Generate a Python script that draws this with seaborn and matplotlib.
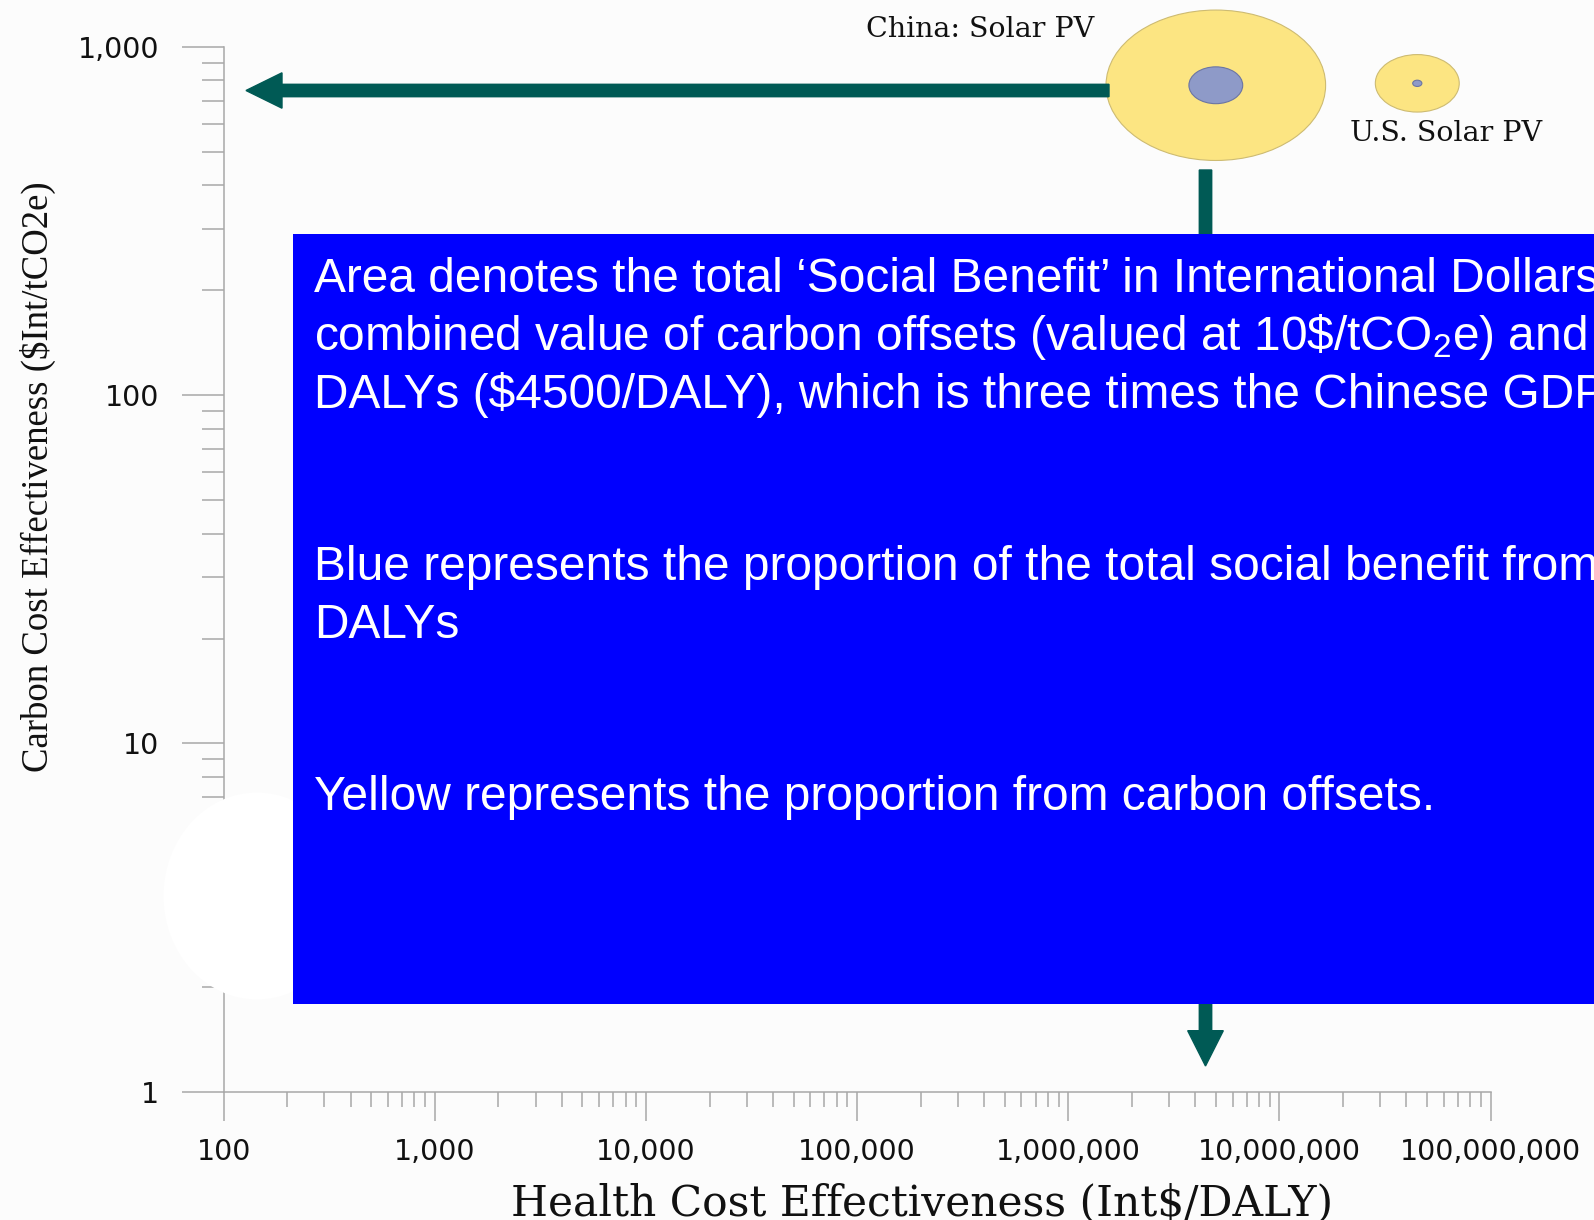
import numpy as np
import matplotlib
matplotlib.use('Agg')
import matplotlib.pyplot as plt
import matplotlib.patches as mpatches
from matplotlib.path import Path
from matplotlib.transforms import Affine2D
from matplotlib.ticker import FixedLocator, LogLocator, FuncFormatter, NullFormatter
import seaborn as sns

# bubble data
projects = ['China: Solar PV', 'U.S. Solar PV']
health_cost_eff = [5.0e6, 4.5e7]    # Int$/DALY
carbon_cost_eff = [775, 785]        # $Int/tCO2e
social_benefit = [1.0, 0.146]       # total social benefit, relative to China (bubble area)
daly_share = [0.060, 0.012]         # part of the benefit coming from averted DALYs

x_ticks = [1e2, 1e3, 1e4, 1e5, 1e6, 1e7, 1e8]
y_ticks = [1, 10, 100, 1000]

box_lines = [
    'Area denotes the total \u2018Social Benefit\u2019 in International Dollars',
    r'combined value of carbon offsets (valued at 10\$/tCO$_2$e) and',
    'DALYs ($4500/DALY), which is three times the Chinese GDP',
    '',
    '',
    'Blue represents the proportion of the total social benefit from',
    'DALYs',
    '',
    '',
    'Yellow represents the proportion from carbon offsets.',
]

sns.set_style('ticks')
plt.rcParams['font.family'] = ['DejaVu Sans']
plt.rcParams['mathtext.default'] = 'regular'

W, H = 1594, 1220
fig = plt.figure(figsize=(W / 100, H / 100), dpi=100, facecolor='#fcfcfc')
# pixel coords measured from the top-left corner
pix = Affine2D().scale(1 / W, -1 / H).translate(0, 1) + fig.transFigure

ax = fig.add_axes([0.14034, 0.10516, 0.79473, 0.85656])
ax.patch.set_alpha(0)
ax.set_xscale('log')
ax.set_yscale('log')

# squashed circle marker, like the stretched bubbles in the original
ellipse = Affine2D().scale(1, 1 / 1.46).transform_path(Path.unit_circle())
S_MAX = 25000
yellow_s = [b * S_MAX for b in social_benefit]
blue_s = [b * d * S_MAX for b, d in zip(social_benefit, daly_share)]

sns.scatterplot(x=health_cost_eff, y=carbon_cost_eff, s=yellow_s, marker=ellipse,
                color='#fce582', edgecolor='#cdbb72', linewidth=0.8,
                clip_on=False, zorder=3, ax=ax, legend=False)
sns.scatterplot(x=health_cost_eff, y=carbon_cost_eff, s=blue_s, marker=ellipse,
                color='#8e9ac8', edgecolor='#6b75a3', linewidth=0.8,
                clip_on=False, zorder=4, ax=ax, legend=False)

label_offsets = [(-350, 48), (-67, -58)]
for name, x, y, off in zip(projects, health_cost_eff, carbon_cost_eff, label_offsets):
    ax.annotate(name, xy=(x, y), xytext=off, textcoords='offset pixels',
                ha='left', va='baseline', fontsize=20.5, family='DejaVu Serif',
                color='#111111')

ax.set_xlim(100, 1e8)
ax.set_ylim(1, 1000)
ax.xaxis.set_major_locator(FixedLocator(x_ticks))
ax.yaxis.set_major_locator(FixedLocator(y_ticks))
ax.xaxis.set_minor_locator(LogLocator(base=10, subs=np.arange(2, 10), numticks=100))
ax.yaxis.set_minor_locator(LogLocator(base=10, subs=np.arange(2, 10), numticks=100))
fmt = FuncFormatter(lambda v, pos: f'{v:,.0f}')
ax.xaxis.set_major_formatter(fmt)
ax.yaxis.set_major_formatter(fmt)
ax.xaxis.set_minor_formatter(NullFormatter())
ax.yaxis.set_minor_formatter(NullFormatter())

grey = '#a8a8a8'
sns.despine(ax=ax)
for side in ['left', 'bottom']:
    ax.spines[side].set_color(grey)
    ax.spines[side].set_linewidth(1.1)
ax.tick_params(axis='y', which='major', length=30, width=1.1, color=grey, pad=16.5,
               labelsize=20.5, labelcolor='#111111')
ax.tick_params(axis='y', which='minor', length=15.5, width=1.1, color=grey)
ax.tick_params(axis='x', which='major', length=21, width=1.1, color=grey, pad=12,
               labelsize=20.5, labelcolor='#111111')
ax.tick_params(axis='x', which='minor', length=10.8, width=1.1, color=grey)

ax.set_ylabel('Carbon Cost Effectiveness ($Int/tCO2e)', family='Liberation Serif',
              fontsize=26.5, color='#111111', va='center')
ax.yaxis.set_label_coords(-0.1469, 0.5882)
ax.set_xlabel('Health Cost Effectiveness (Int$/DALY)', family='DejaVu Serif',
              fontsize=30.5, color='#111111', va='baseline')
ax.xaxis.set_label_coords(0.5516, -0.1185)

# white blob that hides part of the y axis
fig.add_artist(mpatches.Ellipse((257, 896), 187, 207, transform=pix,
                                facecolor='white', edgecolor='none', zorder=2))

# arrows from the China bubble to the axes
arrow_color = '#005a55'
fig.add_artist(mpatches.FancyArrow(1109, 90.5, 246 - 1109, 0, width=12.4,
                                   head_width=35.4, head_length=36,
                                   length_includes_head=True, transform=pix,
                                   color=arrow_color, zorder=1))
fig.add_artist(mpatches.FancyArrow(1205.5, 170, 0, 1066 - 170, width=12.4,
                                   head_width=35.6, head_length=35.3,
                                   length_includes_head=True, transform=pix,
                                   color=arrow_color, zorder=1))

# blue explanation box
fig.add_artist(mpatches.Rectangle((293, 234), W - 293 + 10, 1004 - 234, transform=pix,
                                  facecolor='#0000ff', edgecolor='none', zorder=5))
for i, line in enumerate(box_lines):
    if line:
        fig.text(314, 292.5 + i * 57.5, line, transform=pix, ha='left', va='baseline',
                 fontsize=34.5, family='Liberation Sans', color='white', zorder=6)

fig.savefig('out.png', dpi=100, facecolor=fig.get_facecolor())
